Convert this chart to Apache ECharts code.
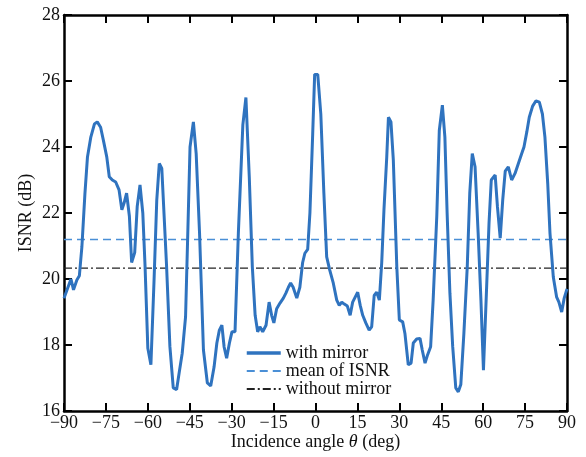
<!DOCTYPE html>
<html>
<head>
<meta charset="utf-8">
<script src="https://cdn.jsdelivr.net/npm/echarts@6/dist/echarts.min.js"></script>
<style>html,body{margin:0;padding:0;background:#fff;}#c{width:586px;height:457px;}</style>
</head>
<body>
<div id="c"></div>
<script>
const angles = [-90,-87.5,-86.6,-85.4,-84.5,-83.6,-82.5,-81.6,-80.4,-79.1,-78.1,-76.9,-75.9,-74.7,-73.8,-72.7,-71.5,-70.3,-69.3,-68.5,-67.6,-66.6,-65.8,-64.7,-63.8,-62.8,-61.8,-61.0,-60.0,-58.9,-57.8,-56.8,-55.9,-55.0,-53.3,-52.1,-50.9,-49.7,-48.8,-47.7,-46.5,-45.7,-44.9,-43.7,-42.7,-41.5,-40.1,-38.7,-37.5,-36.3,-35.3,-34.4,-33.5,-32.7,-31.8,-30.8,-29.9,-28.8,
-27.6,-26.0,-24.9,-23.7,-22.6,-21.6,-20.7,-19.9,-18.9,-17.7,-16.6,-15.7,-14.9,-13.9,-12.7,-11.5,-10.6,-9.7,-8.9,-8.0,-6.7,-5.6,-4.6,-3.8,-2.8,-2.0,-1.0,-0.3,0.8,1.9,3.0,4.0,5.1,6.3,7.6,8.5,9.4,10.3,11.4,12.4,13.3,14.2,15.1,16.0,16.9,18.0,19.2,20.1,21.0,21.9,22.85,23.7,24.5,25.5,26.1,27.0,27.85,29.1,30.0,
31.2,32.0,33.2,34.2,35.0,36.2,37.4,38.2,39.2,40.1,41.2,42.1,43.4,44.3,45.4,46.3,47.1,48.1,49.1,50.2,51.1,52.0,53.1,54.3,55.2,56.1,57.1,58.2,59.2,60.1,61.2,62.1,62.9,64.3,65.1,66.1,67.0,67.9,69.0,70.2,71.4,72.6,73.8,74.6,75.6,76.5,77.7,78.9,80.1,81.2,82.1,83.1,83.9,85.1,86.3,87.1,88.1,89.0,90];
const isnrWithMirror = [19.42,20.0,19.67,19.97,20.1,20.97,22.6,23.7,24.3,24.7,24.76,24.6,24.2,23.7,23.1,23.0,22.94,22.7,22.1,22.3,22.6,21.9,20.5,20.8,22.2,22.85,22.0,20.4,17.9,17.4,19.9,22.4,23.5,23.35,20.4,17.95,16.7,16.65,17.15,17.75,18.85,21.4,24.0,24.76,23.8,21.4,17.85,16.85,16.76,17.33,18.06,18.45,18.6,17.94,17.6,18.06,18.4,18.4,
21.4,24.67,25.5,23.1,20.36,18.9,18.4,18.55,18.4,18.6,19.3,18.9,18.67,19.1,19.27,19.42,19.57,19.75,19.88,19.75,19.42,19.75,20.5,20.78,20.9,22.0,24.4,26.2,26.2,25.0,22.6,20.67,20.27,19.9,19.36,19.2,19.3,19.24,19.18,18.9,19.3,19.45,19.6,19.2,18.9,18.67,18.45,18.55,19.5,19.6,19.36,20.5,22.1,23.7,24.9,24.76,23.6,20.36,18.76,
18.7,18.35,17.4,17.45,18.06,18.18,18.2,17.85,17.45,17.7,17.95,19.36,21.9,24.5,25.27,24.3,22.0,19.57,17.95,16.7,16.58,16.8,18.35,20.36,22.6,23.8,23.4,21.4,19.36,17.24,19.67,21.7,23.0,23.15,22.2,21.24,22.4,23.27,23.4,23.0,23.2,23.5,23.8,24.0,24.45,24.9,25.24,25.4,25.36,25.0,24.3,22.9,21.4,20.06,19.45,19.3,19.0,19.42,19.7];
const meanISNR = 21.2;
const withoutMirror = 20.33;
const xTicks = [-90,-75,-60,-45,-30,-15,0,15,30,45,60,75,90];
const yTicks = [16,18,20,22,24,26,28];
const seriesNames = ['with mirror','mean of ISNR','without mirror'];

const font = 'Liberation Serif';
const fs = 18;
const mainData = angles.map((a,i)=>[a,isnrWithMirror[i]]);
const xMin = xTicks[0], xMax = xTicks[xTicks.length-1];
const yMin = yTicks[0], yMax = yTicks[yTicks.length-1];

const axisLine = {show:true, onZero:false, lineStyle:{color:'#000', width:2.5}};
const axisTick = {show:true, inside:true, length:8, lineStyle:{color:'#000', width:2}};
const fmtX = v => (v<0 ? '\u2212'+Math.abs(v) : String(v));

const chart = echarts.init(document.getElementById('c'), null, {renderer:'canvas'});
chart.setOption({
  animation:false,
  backgroundColor:'#fff',
  grid:{left:64, right:19, top:15, bottom:46, containLabel:false, outerBoundsMode:'none'},
  legend:{
    orient:'vertical', left:240, top:339, itemWidth:34, itemHeight:12, itemGap:0,
    data:[{name:seriesNames[0], lineStyle:{width:3.5}}, seriesNames[1], seriesNames[2]],
    itemStyle:{opacity:0},
    textStyle:{fontFamily:font, fontSize:fs, color:'#111', padding:[0,0,0,0]}
  },
  xAxis:[
    {type:'value', min:xMin, max:xMax, interval:15, position:'bottom',
     axisLine, axisTick, splitLine:{show:false},
     axisLabel:{formatter:fmtX, fontFamily:font, fontSize:fs, color:'#111', margin:3},
     name:'Incidence angle {i|θ} (deg)', nameLocation:'middle', nameGap:22, nameMoveOverlap:false,
     nameTextStyle:{fontFamily:font, fontSize:fs, color:'#111', rich:{i:{fontFamily:font, fontStyle:'italic', fontSize:fs, color:'#111'}}}
    },
    {type:'value', min:xMin, max:xMax, interval:15, position:'top',
     axisLine, axisTick, splitLine:{show:false}, axisLabel:{show:false}}
  ],
  yAxis:[
    {type:'value', min:yMin, max:yMax, interval:2, position:'left',
     axisLine, axisTick, splitLine:{show:false},
     axisLabel:{fontFamily:font, fontSize:fs, color:'#111', margin:4},
     name:'ISNR (dB)', nameLocation:'middle', nameGap:29, nameMoveOverlap:false,
     nameTextStyle:{fontFamily:font, fontSize:fs, color:'#111'}
    },
    {type:'value', min:yMin, max:yMax, interval:2, position:'right',
     axisLine, axisTick, splitLine:{show:false}, axisLabel:{show:false}}
  ],
  series:[
    {name:seriesNames[0], type:'line', data:mainData, symbol:'none', z:5,
     lineStyle:{color:'#2f73bf', width:3}, itemStyle:{color:'#2f73bf'}},
    {name:seriesNames[1], type:'line', data:[[xMin,meanISNR],[xMax,meanISNR]], symbol:'none', z:3,
     lineStyle:{color:'#4a8fd6', width:1.5, type:[8,5]}, itemStyle:{color:'#4a8fd6'}},
    {name:seriesNames[2], type:'line', data:[[xMin,withoutMirror],[xMax,withoutMirror]], symbol:'none', z:3,
     lineStyle:{color:'#222', width:1.2, type:[8,3,2,3]}, itemStyle:{color:'#222'}}
  ]
});
</script>
</body>
</html>
